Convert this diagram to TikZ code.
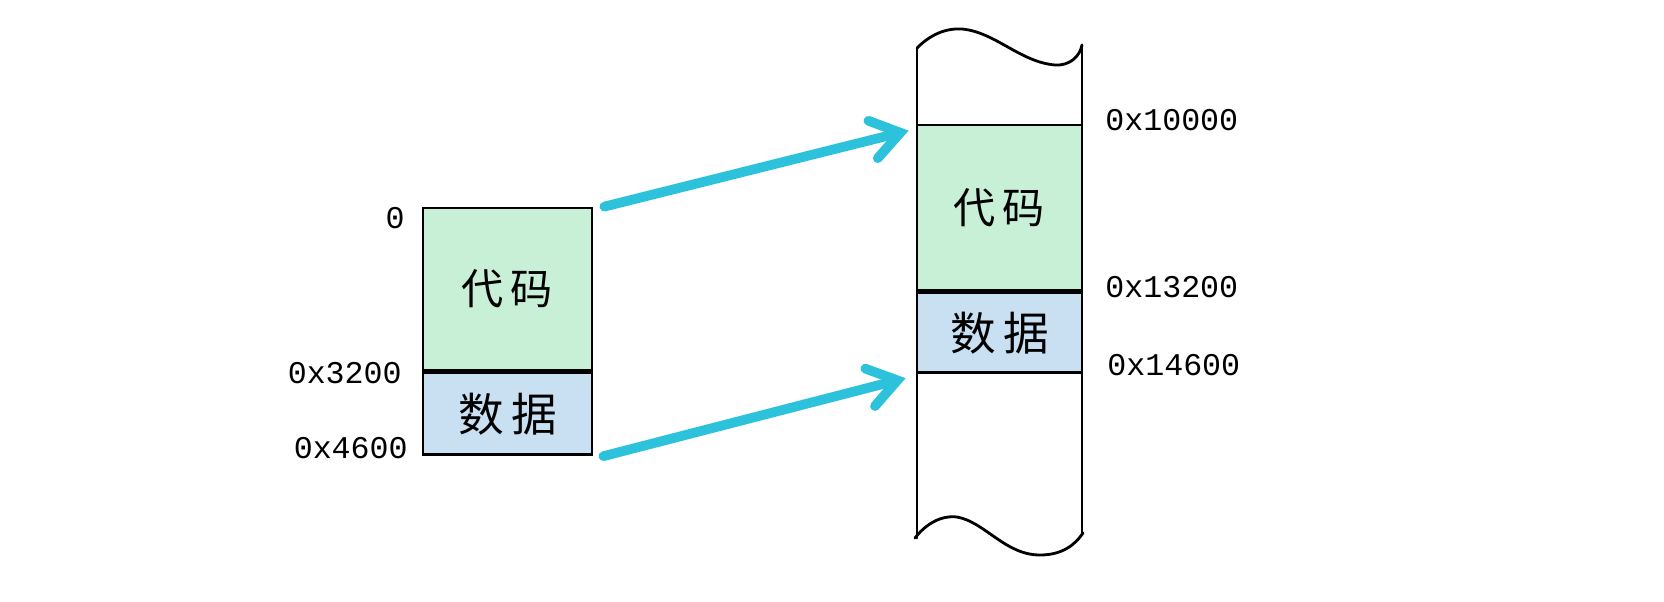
\documentclass[tikz,border=0pt]{standalone}
\usepackage{fontspec}
\newfontfamily\cjk{Noto Sans CJK SC}
\newfontfamily\hexfont{Liberation Mono}
\usetikzlibrary{arrows.meta,positioning}
\definecolor{flowcyan}{RGB}{45,194,219}
\definecolor{codegreen}{RGB}{200,240,215}
\definecolor{datablue}{RGB}{200,224,242}

\begin{document}
\begin{tikzpicture}[
    x=0.02cm, y=-0.02cm,
    seg/.style={draw=black, line width=1.6pt, inner sep=0pt, font=\cjk\fontsize{24}{24}\selectfont},
    codeseg/.style={seg, fill=codegreen},
    dataseg/.style={seg, fill=datablue, font=\cjk\fontsize{26}{26}\selectfont},
    addr/.style={font=\hexfont\fontsize{18}{18}\selectfont, inner sep=0pt},
    col/.style={line width=1.6pt, line cap=round},
    flow/.style={draw=flowcyan, line width=5.5pt, line cap=round,
        -{Straight Barb[length=16pt,width=22pt,line cap=round]}}
]
\useasboundingbox (0,0) rectangle (1664,602);

% Program image (left)
\node[codeseg, minimum width=3.38cm, minimum height=3.24cm] (lcode) at (507.5,289) {代\,码};
\node[dataseg, minimum width=3.38cm, minimum height=1.64cm, below=0pt of lcode] (ldata) {数\,据};
\node[addr, anchor=east] (a0) at (405,218) {0};
\node[addr, anchor=east] (a3200) at (402,373) {0x3200};
\node[addr, anchor=east] (a4600) at (408,448) {0x4600};

% Memory column (right), wavy ends
\draw[col] (917,48) .. controls (930,35) and (945,28) .. (962,29)
    .. controls (995,32) and (1020,62) .. (1055,65)
    .. controls (1070,66) and (1080,56) .. (1082,45);
\draw[col] (915,538) .. controls (925,525) and (940,515) .. (957,517)
    .. controls (985,522) and (1005,555) .. (1040,555)
    .. controls (1062,555) and (1075,545) .. (1083,533);
\node[codeseg, minimum width=3.3cm, minimum height=3.3cm] (rcode) at (999.5,207.5) {代\,码};
\node[dataseg, minimum width=3.3cm, minimum height=1.6cm, below=0pt of rcode] (rdata) {数\,据};
\draw[col] (917,48) -- (917,538);
\draw[col] (1082,45) -- (1082,533);
\node[addr, anchor=west] (a10000) at (1105,120) {0x10000};
\node[addr, anchor=west] (a13200) at (1105,287) {0x13200};
\node[addr, anchor=west] (a14600) at (1107,365) {0x14600};

% Loading
\draw[flow] ([xshift=0.22cm]lcode.north east) -- ([xshift=-0.14cm,yshift=-0.14cm]rcode.north west);
\draw[flow] ([xshift=0.2cm]ldata.south east) -- ([xshift=-0.2cm,yshift=-0.08cm]rdata.south west);
\end{tikzpicture}
\end{document}
